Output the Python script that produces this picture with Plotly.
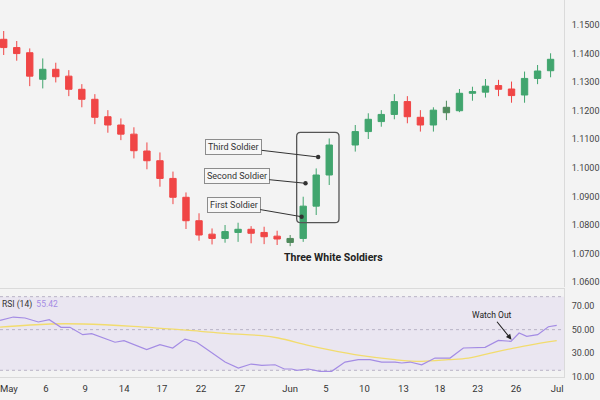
import plotly.graph_objects as go

# ---------------- data ----------------
sessions = list(range(0, 26)) + list(range(27, 43))
opens = [1.1450, 1.1421, 1.1403, 1.1310, 1.1345, 1.1321, 1.1275, 1.1240, 1.1179, 1.1150,
         1.1118, 1.1059, 1.1025, 1.0963, 1.0897, 1.0815, 1.0768, 1.0753, 1.0774, 1.0785,
         1.0774, 1.0761, 1.0739, 1.0753, 1.0866, 1.0975,
         1.1080, 1.1127, 1.1162, 1.1187, 1.1232, 1.1177, 1.1150, 1.1193, 1.1200, 1.1261,
         1.1265, 1.1288, 1.1276, 1.1255, 1.1313, 1.1340]
highs = [1.1479, 1.1444, 1.1418, 1.1383, 1.1368, 1.1342, 1.1293, 1.1258, 1.1202, 1.1173,
         1.1142, 1.1089, 1.1054, 1.0987, 1.0914, 1.0841, 1.0788, 1.0800, 1.0808, 1.0796,
         1.0794, 1.0780, 1.0765, 1.0899, 1.0998, 1.1103,
         1.1150, 1.1191, 1.1202, 1.1258, 1.1251, 1.1202, 1.1212, 1.1235, 1.1276, 1.1284,
         1.1311, 1.1308, 1.1302, 1.1337, 1.1360, 1.1401]
lows = [1.1395, 1.1375, 1.1286, 1.1278, 1.1299, 1.1251, 1.1212, 1.1153, 1.1123, 1.1097,
        1.1033, 1.0995, 1.0934, 1.0873, 1.0786, 1.0745, 1.0732, 1.0738, 1.0741, 1.0736,
        1.0733, 1.0730, 1.0726, 1.0741, 1.0835, 1.0940,
        1.1057, 1.1101, 1.1144, 1.1170, 1.1156, 1.1127, 1.1127, 1.1167, 1.1195, 1.1235,
        1.1246, 1.1251, 1.1228, 1.1228, 1.1293, 1.1317]
closes = [1.1421, 1.1400, 1.1321, 1.1345, 1.1319, 1.1275, 1.1240, 1.1177, 1.1150, 1.1118,
          1.1060, 1.1025, 1.0963, 1.0897, 1.0815, 1.0765, 1.0753, 1.0777, 1.0785, 1.0771,
          1.0759, 1.0751, 1.0753, 1.0866, 1.0975, 1.1080,
          1.1127, 1.1170, 1.1187, 1.1232, 1.1179, 1.1150, 1.1202, 1.1212, 1.1261, 1.1267,
          1.1286, 1.1275, 1.1253, 1.1313, 1.1339, 1.1380]
muted_sessions = [22, 34]

rsi_t = [-0.28, 0.74, 1.64, 2.66, 3.50, 4.40, 5.09, 6.07, 6.76, 7.65, 8.55, 9.24, 10.08,
         10.98, 12.0, 12.98, 13.92, 14.82, 15.46, 16.23, 17.0, 18.02, 19.0, 19.82, 20.84,
         21.55, 22.12, 22.5, 23.39, 24.29, 25.19, 26.21, 27.23, 28.13, 29.03, 30.05, 30.57,
         31.21, 32.1, 33.12, 34.28, 35.30, 36.97, 37.99, 38.96, 39.58, 40.17, 41.01, 41.83,
         42.47]
rsi_v = [57.9, 60.7, 59.9, 56.5, 58.4, 52.0, 52.0, 45.7, 46.6, 42.9, 39.3, 40.6, 36.7,
         33.0, 37.2, 34.4, 42.0, 39.3, 34.4, 28.7, 22.5, 17.4, 20.8, 19.7, 20.2,
         16.6, 16.6, 15.5, 16.6, 14.6, 14.6, 22.5, 24.5, 24.5, 22.5, 22.5, 21.7,
         22.5, 20.2, 25.9, 25.9, 34.4, 35.0, 40.9, 40.1, 47.1, 44.3, 45.7, 52.5,
         53.7]
sig_t = [-0.28, 3.56, 6.11, 9.95, 15.08, 17.25, 19.82, 21.09, 23.39, 24.93, 27.5, 30.05,
         32.1, 34.15, 35.68, 37.73, 40.29, 42.47]
sig_v = [52.2, 54.8, 54.8, 52.8, 48.6, 46.6, 44.9, 42.9, 36.7, 33.0, 27.9, 24.5,
         23.1, 24.5, 25.9, 31.0, 36.7, 40.6]
rsi_last = "55.42"

x_tick_pos = [0.4, 3.25, 6.25, 9.25, 12.15, 15.15, 18.15, 22.0, 24.75, 27.7, 30.7,
              33.5, 36.4, 39.35, 42.5]
x_tick_text = ["May", "6", "9", "14", "17", "22", "27", "Jun", "5", "10", "13", "18",
               "23", "26", "Jul"]
rsi_ticks = [70, 50, 30, 10]

# ---------------- styling ----------------
BG = "#f3f3f3"
RED = "#f04646"
GREEN = "#41a56e"
MUTED = "#4f8a5c"
FONT = "Roboto"

norm = [i for i, s in enumerate(sessions) if s not in muted_sessions]
mute = [i for i, s in enumerate(sessions) if s in muted_sessions]

def pick(arr, idx):
    return [arr[i] for i in idx]

fig = go.Figure()
fig.add_trace(go.Candlestick(
    x=pick(sessions, norm), open=pick(opens, norm), high=pick(highs, norm),
    low=pick(lows, norm), close=pick(closes, norm),
    increasing=dict(line=dict(color=GREEN, width=1), fillcolor=GREEN),
    decreasing=dict(line=dict(color=RED, width=1), fillcolor=RED),
    whiskerwidth=0, showlegend=False, hoverinfo="skip"))
fig.add_trace(go.Candlestick(
    x=pick(sessions, mute), open=pick(opens, mute), high=pick(highs, mute),
    low=pick(lows, mute), close=pick(closes, mute),
    increasing=dict(line=dict(color=MUTED, width=1), fillcolor=MUTED),
    decreasing=dict(line=dict(color=MUTED, width=1), fillcolor=MUTED),
    whiskerwidth=0, showlegend=False, hoverinfo="skip"))

fig.add_trace(go.Scatter(x=sig_t, y=sig_v, mode="lines", xaxis="x2", yaxis="y2",
                         line=dict(color="#f2dc6e", width=1.3, shape="spline"),
                         showlegend=False, hoverinfo="skip"))
fig.add_trace(go.Scatter(x=rsi_t, y=rsi_v, mode="lines", xaxis="x2", yaxis="y2",
                         line=dict(color="#a48ce4", width=1.2),
                         showlegend=False, hoverinfo="skip"))

XR = [-0.284, 43.03]
fig.update_layout(
    width=600, height=400,
    margin=dict(l=0, r=36, t=0, b=23),
    paper_bgcolor=BG, plot_bgcolor=BG,
    font=dict(family=FONT, color="#333", size=9),
    boxgap=0.3, boxgroupgap=0.3,
    xaxis=dict(domain=[0, 1], anchor="y", range=XR, showticklabels=False, showgrid=False,
               zeroline=False, showline=False, rangeslider=dict(visible=False), fixedrange=True),
    yaxis=dict(domain=[0.2387, 1], anchor="x", side="right", range=[1.0583, 1.15875],
               tick0=1.06, dtick=0.01, tickformat=".4f", showgrid=False, zeroline=False,
               showline=True, linecolor="#dadada", linewidth=1, ticks="",
               ticklabelstandoff=5, tickfont=dict(size=9, color="#444")),
    xaxis2=dict(domain=[0, 1], anchor="y2", range=XR, matches="x", tickmode="array",
                tickvals=x_tick_pos, ticktext=x_tick_text, showgrid=False, zeroline=False,
                showline=True, mirror=True, linecolor="#dadada", linewidth=1, ticks="",
                ticklabelstandoff=3, ticklabeloverflow="allow",
                tickfont=dict(size=9.5, color="#333")),
    yaxis2=dict(domain=[0, 0.2334], anchor="x2", side="right", range=[9.8, 84.5],
                tickmode="array", tickvals=rsi_ticks, tickformat=".2f", showgrid=False,
                zeroline=False, showline=True, linecolor="#dadada", linewidth=1, ticks="",
                ticklabelstandoff=5, tickfont=dict(size=9, color="#444")),
)

# RSI band and levels
OB, MID, OS = 78, 50, 15.5
fig.add_shape(type="rect", xref="x2 domain", yref="y2", x0=0, x1=1, y0=OS, y1=OB,
              fillcolor="rgba(175,145,230,0.13)", line=dict(width=0), layer="below")
for lvl in (OB, MID, OS):
    fig.add_shape(type="line", xref="x2 domain", yref="y2", x0=0, x1=1, y0=lvl, y1=lvl,
                  line=dict(color="#b9b3c6", width=1, dash="3px,3px"), layer="below")

# rounded box around the three soldiers
bx0, bx1, by0, by1 = 22.5, 25.75, 1.0808, 1.11244
rx, ry = 0.3, 0.0014
path = (f"M {bx0+rx},{by1} L {bx1-rx},{by1} Q {bx1},{by1} {bx1},{by1-ry} "
        f"L {bx1},{by0+ry} Q {bx1},{by0} {bx1-rx},{by0} L {bx0+rx},{by0} "
        f"Q {bx0},{by0} {bx0},{by0+ry} L {bx0},{by1-ry} Q {bx0},{by1} {bx0+rx},{by1} Z")
fig.add_shape(type="path", path=path, xref="x", yref="y",
              line=dict(color="#555", width=1.3))

labels = [
    ("Third Soldier", 24.15, 1.1038, 17.67, 1.1073),
    ("Second Soldier", 23.18, 1.0946, 17.9, 1.0970),
    ("First Soldier", 22.88, 1.0829, 17.67, 1.0870),
]
for text, x, y, ax, ay in labels:
    fig.add_annotation(x=x, y=y, xref="x", yref="y", ax=ax, ay=ay, axref="x", ayref="y",
                       text=text, showarrow=True, arrowhead=6, arrowsize=1.1,
                       arrowwidth=1, arrowcolor="#333",
                       bgcolor="#f7f7f7", bordercolor="#8c8c8c", borderwidth=1,
                       borderpad=2, font=dict(size=9, color="#333"))

fig.add_annotation(x=25.3, y=1.0686, xref="x", yref="y", text="<b>Three White Soldiers</b>",
                   showarrow=False, font=dict(size=10.5, color="#222"))

fig.add_annotation(x=39.0, y=41.5, xref="x2", yref="y2", ax=37.48, ay=62.2,
                   axref="x2", ayref="y2", text="Watch Out", showarrow=True,
                   arrowhead=2, arrowsize=1, arrowwidth=1.1, arrowcolor="#222",
                   font=dict(size=8.5, color="#222"))

fig.add_annotation(x=0, y=0.1936, xref="paper", yref="paper", xanchor="left",
                   yanchor="middle", showarrow=False,
                   text=f"RSI (14)  <span style='color:#a48ce4'>{rsi_last}</span>",
                   font=dict(size=8.5, color="#333"))

fig.write_html("out.html")
